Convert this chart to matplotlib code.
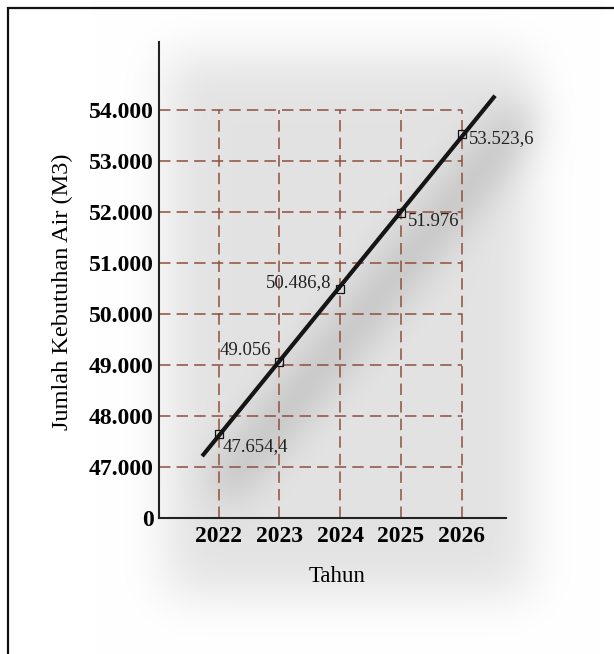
import numpy as np
import matplotlib
matplotlib.use('Agg')
import matplotlib.pyplot as plt
from matplotlib.patches import Rectangle

plt.rcParams['font.family'] = ['Liberation Serif', 'DejaVu Serif']

# data
tahun = [2022, 2023, 2024, 2025, 2026]
kebutuhan = [47654.4, 49056, 50486.8, 51976, 53523.6]
label_nilai = ['47.654,4', '49.056', '50.486,8', '51.976', '53.523,6']
y_ticks = [47000, 48000, 49000, 50000, 51000, 52000, 53000, 54000]
y_ticklabels = ['47.000', '48.000', '49.000', '50.000', '51.000', '52.000', '53.000', '54.000']
y_nol = 46000  # axis is broken, bottom of the axis is labelled 0

# label placement (pixels from point)
label_offset = [(4, -13), (-8, 12), (-9, 6), (7, -8), (7, -4)]
label_ha = ['left', 'right', 'right', 'left', 'left']

W, H = 614, 654
fig = plt.figure(figsize=(W / 100, H / 100), dpi=100)
ax = fig.add_axes([159 / W, 1 - 518 / H, (506 - 159) / W, (518 - 42) / H])
ax.set_facecolor('none')
ax.set_xlim(2021.02, 2026.73)
ax.set_ylim(y_nol, 55330)

# dashed grid only inside the data area
grid_kw = dict(colors='#8e4f3e', linewidth=1.1, linestyles=[(0, (7.5, 4))], zorder=1)
ax.hlines(y_ticks, 2021.02, tahun[-1], **grid_kw)
ax.vlines(tahun, y_nol, y_ticks[-1], **grid_kw)

# linear trend line, extended a bit on both ends
koef = np.polyfit(tahun, kebutuhan, 1)
xs = np.linspace(2021.73, 2026.55, 50)
ax.plot(xs, np.polyval(koef, xs), color='#151515', lw=3, solid_capstyle='butt', zorder=3)
ax.plot(tahun, kebutuhan, ls='none', marker='s', ms=5.5, mfc='none', mec='#111', mew=0.9, zorder=4)

for x, y, t, off, ha in zip(tahun, kebutuhan, label_nilai, label_offset, label_ha):
    ax.annotate(t, (x, y), xytext=off, textcoords='offset pixels', ha=ha, va='center',
                fontsize=13.5, color='#222')

ax.set_xticks(tahun, [str(t) for t in tahun])
ax.set_yticks([y_nol] + y_ticks, ['0'] + y_ticklabels)
ax.tick_params(length=0, labelsize=17)
ax.tick_params(axis='y', pad=4)
ax.tick_params(axis='x', pad=6)
for lab in ax.get_xticklabels() + ax.get_yticklabels():
    lab.set_fontweight('bold')
for s in ['top', 'right']:
    ax.spines[s].set_visible(False)
for s in ['left', 'bottom']:
    ax.spines[s].set_linewidth(1.5)
    ax.spines[s].set_color('#222')

fig.text(62 / W, 1 - 292 / H, 'Jumlah Kebutuhan Air (M3)', rotation=90, ha='center', va='center', fontsize=17.5)
fig.text(337 / W, 1 - 577 / H, 'Tahun', ha='center', va='center', fontsize=16.5)

# frame around the figure
fig.add_artist(Rectangle((8 / W, -0.1), 1.2, 1.1 - 7.5 / H, transform=fig.transFigure,
                         fill=False, lw=1.6, ec='#111'))


# soft drop shadow behind the chart
def blur(img, sigma):
    r = int(3 * sigma)
    k = np.exp(-0.5 * (np.arange(-r, r + 1) / sigma) ** 2)
    k /= k.sum()
    img = np.apply_along_axis(lambda v: np.convolve(v, k, mode='same'), 0, img)
    img = np.apply_along_axis(lambda v: np.convolve(v, k, mode='same'), 1, img)
    return img


yy, xx = np.mgrid[0:H, 0:W]
kotak = ((xx > 165) & (xx < 530) & (yy > 55) & (yy < 595)).astype(float)

p = ax.transData.transform(np.column_stack([xs[[0, -1]], np.polyval(koef, xs[[0, -1]])]))
x0, y0 = p[0][0] + 25, H - p[0][1] + 25
x1, y1 = p[1][0] + 25, H - p[1][1] + 25
dx, dy = x1 - x0, y1 - y0
t = np.clip(((xx - x0) * dx + (yy - y0) * dy) / (dx * dx + dy * dy), 0, 1)
jarak = np.hypot(xx - (x0 + t * dx), yy - (y0 + t * dy))
garis = (jarak < 16).astype(float)

bayangan = 0.11 * blur(kotak, 24) + 0.16 * blur(garis, 20)
abu = np.clip(1 - bayangan, 0, 1)
fig.figimage(np.dstack([abu, abu, abu]), xo=0, yo=0, origin='upper', zorder=-1)

fig.savefig('out.png', dpi=100)
